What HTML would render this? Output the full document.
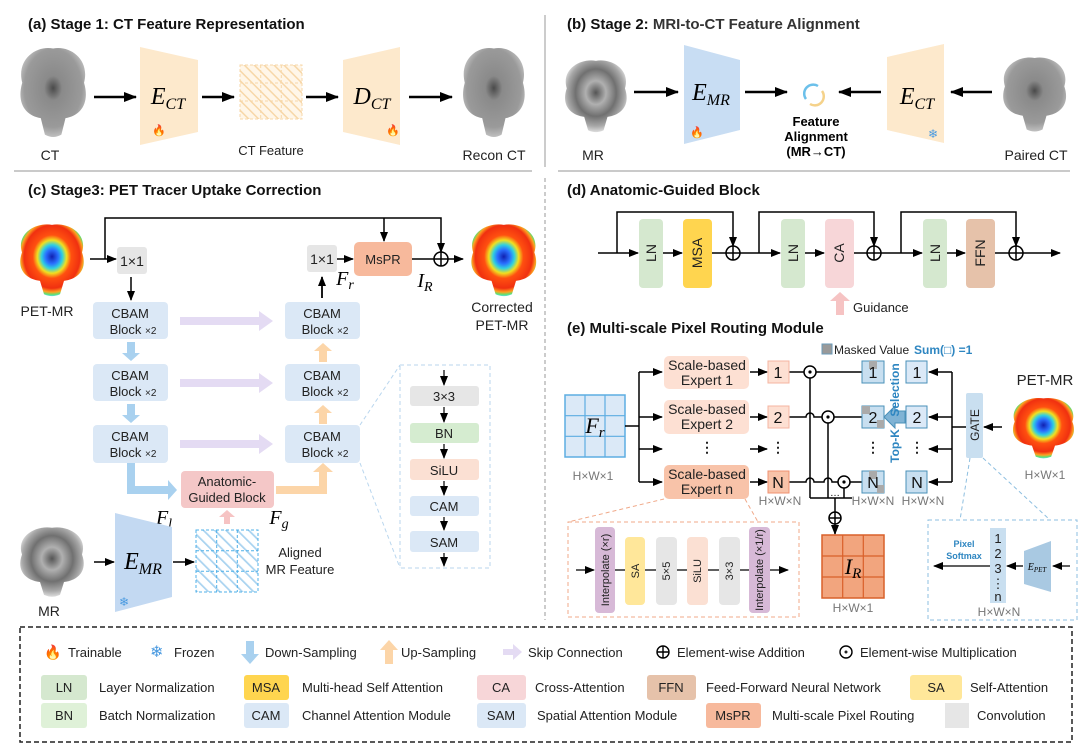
<!DOCTYPE html>
<html><head><meta charset="utf-8"><style>
html,body{margin:0;padding:0;background:#fff;}
svg{display:block;font-family:"Liberation Sans",Arial,sans-serif;}
.t{font-weight:bold;font-size:15px;fill:#111;}
.m{font-family:"Liberation Serif",serif;font-style:italic;}
.s13{font-size:13px;fill:#222;}
.s14{font-size:14px;fill:#222;}
.lg{font-size:13px;fill:#222;}
</style></head><body>
<svg width="1080" height="749" viewBox="0 0 1080 749" xmlns="http://www.w3.org/2000/svg">
<defs>
<marker id="ah" markerUnits="userSpaceOnUse" markerWidth="10" markerHeight="8" refX="9" refY="4" orient="auto"><path d="M0,0 L10,4 L0,8 Z" fill="#000"/></marker>
<marker id="ahb" markerUnits="userSpaceOnUse" markerWidth="13" markerHeight="10" refX="12" refY="5" orient="auto"><path d="M0,0 L13,5 L0,10 Z" fill="#000"/></marker>
<pattern id="hO" width="7" height="7" patternUnits="userSpaceOnUse" patternTransform="rotate(-45)"><rect width="7" height="7" fill="#fff6e8"/><line x1="0" y1="0" x2="0" y2="7" stroke="#f7d7a8" stroke-width="3"/></pattern>
<pattern id="hB" width="8" height="8" patternUnits="userSpaceOnUse" patternTransform="rotate(-45)"><rect width="8" height="8" fill="#fff"/><line x1="0" y1="0" x2="0" y2="8" stroke="#a9d3f0" stroke-width="3.5"/></pattern>
<radialGradient id="pet" cx="50%" cy="45%" r="55%">
<stop offset="0" stop-color="#1020b0"/><stop offset="0.18" stop-color="#2a70ff"/><stop offset="0.3" stop-color="#30d0e0"/><stop offset="0.42" stop-color="#f0e020"/><stop offset="0.55" stop-color="#ff5010"/><stop offset="0.8" stop-color="#f03010"/><stop offset="0.9" stop-color="#ffa020"/><stop offset="0.96" stop-color="#60e070"/><stop offset="1" stop-color="#60e0e0"/></radialGradient>
<radialGradient id="ct" cx="50%" cy="45%" r="55%"><stop offset="0" stop-color="#4a4a4a"/><stop offset="0.25" stop-color="#8a8a8a"/><stop offset="0.8" stop-color="#9a9a9a"/><stop offset="1" stop-color="#c0c0c0"/></radialGradient>
<radialGradient id="mr" cx="50%" cy="45%" r="55%"><stop offset="0" stop-color="#555"/><stop offset="0.3" stop-color="#b0b0b0"/><stop offset="0.6" stop-color="#707070"/><stop offset="0.85" stop-color="#a8a8a8"/><stop offset="1" stop-color="#ddd"/></radialGradient>
<path id="brain" d="M8,32 C2,12 22,0 38,3 C54,0 74,12 68,32 C74,50 64,60 50,62 L46,76 Q38,80 30,76 L26,62 C12,60 2,50 8,32 Z"/>
</defs>
<rect width="1080" height="749" fill="#fff"/>

<line x1="14" y1="171" x2="532" y2="171" stroke="#aaa" stroke-width="1.2"/>
<line x1="558" y1="171" x2="1070" y2="171" stroke="#aaa" stroke-width="1.2"/>
<line x1="545" y1="15" x2="545" y2="167" stroke="#aaa" stroke-width="1.2"/>
<line x1="545" y1="178" x2="545" y2="620" stroke="#aaa" stroke-width="1.2" stroke-dasharray="4,3"/>

<!-- (a) -->
<text x="28" y="29" class="t">(a) Stage 1: CT Feature Representation</text>
<use href="#brain" fill="url(#ct)" transform="translate(14,45) scale(1.03,1.18)"/>
<line x1="94" y1="97" x2="136" y2="97" stroke="#000" stroke-width="2.5" marker-end="url(#ahb)"/>
<polygon points="140,47 198,60 198,132 140,145" fill="#fde9cc"/>
<text x="168" y="104" class="m" font-size="24" text-anchor="middle">E<tspan font-size="16" dy="5">CT</tspan></text>
<text x="152" y="134" font-size="11" fill="#f06020">🔥</text>
<line x1="202" y1="97" x2="234" y2="97" stroke="#000" stroke-width="2.5" marker-end="url(#ahb)"/>
<rect x="240" y="65" width="62" height="54" fill="url(#hO)" stroke="#f7d7a8" stroke-dasharray="3,2"/>
<path d="M260.7,65V119M281.3,65V119M240,83H302M240,101H302" stroke="#f7d7a8" stroke-dasharray="3,2"/>
<line x1="306" y1="97" x2="338" y2="97" stroke="#000" stroke-width="2.5" marker-end="url(#ahb)"/>
<polygon points="343,60 400,47 400,145 343,132" fill="#fde9cc"/>
<text x="372" y="104" class="m" font-size="24" text-anchor="middle">D<tspan font-size="16" dy="5">CT</tspan></text>
<text x="386" y="134" font-size="11" fill="#f06020">🔥</text>
<line x1="409" y1="97" x2="452" y2="97" stroke="#000" stroke-width="2.5" marker-end="url(#ahb)"/>
<use href="#brain" fill="url(#ct)" transform="translate(457,45) scale(0.97,1.18)"/>
<text x="50" y="160" class="s14" text-anchor="middle">CT</text>
<text x="271" y="155" class="s13" text-anchor="middle">CT Feature</text>
<text x="494" y="160" class="s14" text-anchor="middle">Recon CT</text>

<!-- (b) -->
<text x="567" y="29" class="t">(b) Stage 2: <tspan fill="#333">MRI-to-CT Feature Alignment</tspan></text>
<use href="#brain" fill="url(#mr)" transform="translate(559,58) scale(0.97,0.95)"/>
<line x1="634" y1="92" x2="678" y2="92" stroke="#000" stroke-width="2.5" marker-end="url(#ahb)"/>
<polygon points="684,45 740,60 740,130 684,144" fill="#c8ddf3"/>
<text x="711" y="100" class="m" font-size="24" text-anchor="middle">E<tspan font-size="16" dy="5">MR</tspan></text>
<text x="690" y="136" font-size="11" fill="#f06020">🔥</text>
<line x1="745" y1="92" x2="787" y2="92" stroke="#000" stroke-width="2.5" marker-end="url(#ahb)"/>
<path d="M806,99 A9,9 0 0 1 818,86" fill="none" stroke="#6cc0ea" stroke-width="2.5"/>
<path d="M822,91 A9,9 0 0 1 810,104" fill="none" stroke="#f5d28a" stroke-width="2.5"/>
<text x="816" y="126" font-size="13" font-weight="bold" text-anchor="middle">Feature</text>
<text x="816" y="141" font-size="13" font-weight="bold" text-anchor="middle">Alignment</text>
<text x="816" y="156" font-size="13" font-weight="bold" text-anchor="middle">(MR→CT)</text>
<line x1="881" y1="92" x2="839" y2="92" stroke="#000" stroke-width="2.5" marker-end="url(#ahb)"/>
<polygon points="887,57 944,44 944,143 887,130" fill="#fde9cc"/>
<text x="917" y="104" class="m" font-size="24" text-anchor="middle">E<tspan font-size="16" dy="5">CT</tspan></text>
<text x="928" y="138" font-size="12" fill="#4a9ae0">❄</text>
<line x1="992" y1="92" x2="951" y2="92" stroke="#000" stroke-width="2.5" marker-end="url(#ahb)"/>
<use href="#brain" fill="url(#ct)" transform="translate(997,55) scale(0.99,0.98)"/>
<text x="593" y="160" class="s14" text-anchor="middle">MR</text>
<text x="1036" y="160" class="s14" text-anchor="middle">Paired CT</text>

<!-- (c) -->
<text x="28" y="195" class="t">(c) Stage3: PET Tracer Uptake Correction</text>
<use href="#brain" fill="url(#pet)" transform="translate(14,222) scale(1.0,0.95)"/>
<polyline points="105,259 105,218 441,218 441,252" fill="none" stroke="#000" stroke-width="1.5" marker-end="url(#ah)"/>
<line x1="384" y1="218" x2="384" y2="241" stroke="#000" stroke-width="1.5" marker-end="url(#ah)"/>
<line x1="90" y1="259" x2="116" y2="259" stroke="#000" stroke-width="1.5" marker-end="url(#ah)"/>
<rect x="117" y="247" width="30" height="27" rx="3" fill="#e6e6e6"/>
<text x="132" y="266" class="s14" text-anchor="middle">1×1</text>
<line x1="131" y1="277" x2="131" y2="300" stroke="#000" stroke-width="1.5" marker-end="url(#ah)"/>
<text x="47" y="316" class="s14" text-anchor="middle">PET-MR</text>
<g font-size="13" fill="#222" text-anchor="middle">
<rect x="93" y="302" width="75" height="37" rx="4" fill="#dbe8f6"/><text x="130" y="318">CBAM</text><text x="133" y="334">Block <tspan font-size="10">×2</tspan></text>
<rect x="93" y="364" width="75" height="37" rx="4" fill="#dbe8f6"/><text x="130" y="380">CBAM</text><text x="133" y="396">Block <tspan font-size="10">×2</tspan></text>
<rect x="93" y="425" width="75" height="38" rx="4" fill="#dbe8f6"/><text x="130" y="441">CBAM</text><text x="133" y="457">Block <tspan font-size="10">×2</tspan></text>
<rect x="285" y="302" width="75" height="37" rx="4" fill="#dbe8f6"/><text x="322" y="318">CBAM</text><text x="325" y="334">Block <tspan font-size="10">×2</tspan></text>
<rect x="285" y="364" width="75" height="37" rx="4" fill="#dbe8f6"/><text x="322" y="380">CBAM</text><text x="325" y="396">Block <tspan font-size="10">×2</tspan></text>
<rect x="285" y="425" width="75" height="38" rx="4" fill="#dbe8f6"/><text x="322" y="441">CBAM</text><text x="325" y="457">Block <tspan font-size="10">×2</tspan></text>
</g>
<g fill="#e4dbf3">
<polygon points="180,317 259,317 259,311 273,321 259,331 259,325 180,325"/>
<polygon points="180,379 259,379 259,373 273,383 259,393 259,387 180,387"/>
<polygon points="180,440 259,440 259,434 273,444 259,454 259,448 180,448"/>
</g>
<g fill="#a9d1ef">
<polygon points="127,342 135,342 135,353 140,353 131,361 122,353 127,353"/>
<polygon points="127,404 135,404 135,415 140,415 131,423 122,415 127,415"/>
<polygon points="127,463 135,463 135,486 168,486 168,480 177,490 168,500 168,494 127,494"/>
</g>
<g fill="#fcd5a8">
<polygon points="319,362 327,362 327,351 332,351 323,343 314,351 319,351"/>
<polygon points="319,424 327,424 327,413 332,413 323,405 314,413 319,413"/>
<polygon points="276,486 319,486 319,472 313,472 323,463 333,472 327,472 327,494 276,494"/>
</g>
<rect x="181" y="471" width="93" height="37" rx="4" fill="#f4c7c7"/>
<text x="227" y="486" class="s13" text-anchor="middle">Anatomic-</text>
<text x="227" y="502" class="s13" text-anchor="middle">Guided  Block</text>
<text x="164" y="524" class="m" font-size="20" text-anchor="middle">F<tspan font-size="14" dy="4">l</tspan></text>
<text x="279" y="524" class="m" font-size="20" text-anchor="middle">F<tspan font-size="14" dy="4">g</tspan></text>
<polygon points="224,524 230,524 230,517 235,517 227,510 219,517 224,517" fill="#f6c3c3"/>
<line x1="322" y1="298" x2="322" y2="277" stroke="#000" stroke-width="1.8" marker-end="url(#ah)"/>
<rect x="307" y="245" width="30" height="27" rx="3" fill="#e6e6e6"/>
<text x="322" y="264" class="s14" text-anchor="middle">1×1</text>
<line x1="337" y1="259" x2="353" y2="259" stroke="#000" stroke-width="1.5" marker-end="url(#ah)"/>
<rect x="354" y="242" width="58" height="34" rx="5" fill="#f7b99c"/>
<text x="383" y="264" class="s13" text-anchor="middle">MsPR</text>
<text x="345" y="285" class="m" font-size="20" text-anchor="middle">F<tspan font-size="14" dy="4">r</tspan></text>
<line x1="412" y1="259" x2="434" y2="259" stroke="#000" stroke-width="1.5"/>
<circle cx="441" cy="259" r="7" fill="#fff" stroke="#000" stroke-width="1.5"/><path d="M434,259H448M441,252V266" stroke="#000" stroke-width="1.5"/>
<line x1="448" y1="259" x2="463" y2="259" stroke="#000" stroke-width="1.5" marker-end="url(#ah)"/>
<text x="425" y="287" class="m" font-size="20" text-anchor="middle">I<tspan font-size="14" dy="4">R</tspan></text>
<use href="#brain" fill="url(#pet)" transform="translate(465,222) scale(1.02,0.95)"/>
<text x="502" y="312" class="s14" text-anchor="middle">Corrected</text>
<text x="502" y="330" class="s14" text-anchor="middle">PET-MR</text>
<rect x="400" y="365" width="90" height="203" fill="none" stroke="#b9d6ee" stroke-dasharray="4,3"/>
<line x1="360" y1="425" x2="400" y2="365" stroke="#b9d6ee" stroke-dasharray="4,3"/>
<line x1="360" y1="463" x2="400" y2="568" stroke="#b9d6ee" stroke-dasharray="4,3"/>
<g font-size="13" fill="#222" text-anchor="middle">
<rect x="410" y="386" width="69" height="20" rx="3" fill="#e6e6e6"/><text x="444" y="401">3×3</text>
<rect x="410" y="423" width="69" height="20" rx="3" fill="#d5ecd0"/><text x="444" y="438">BN</text>
<rect x="410" y="459" width="69" height="21" rx="3" fill="#fbe0d3"/><text x="444" y="475">SiLU</text>
<rect x="410" y="496" width="69" height="20" rx="3" fill="#dbe8f6"/><text x="444" y="511">CAM</text>
<rect x="410" y="531" width="69" height="21" rx="3" fill="#dbe8f6"/><text x="444" y="547">SAM</text>
</g>
<g stroke="#000" stroke-width="1.2" marker-end="url(#ah)">
<line x1="444" y1="370" x2="444" y2="385"/><line x1="444" y1="407" x2="444" y2="422"/><line x1="444" y1="444" x2="444" y2="458"/><line x1="444" y1="481" x2="444" y2="495"/><line x1="444" y1="517" x2="444" y2="530"/><line x1="444" y1="553" x2="444" y2="566"/>
</g>
<use href="#brain" fill="url(#mr)" transform="translate(14,525) scale(1.0,0.92)"/>
<text x="49" y="616" class="s14" text-anchor="middle">MR</text>
<line x1="94" y1="562" x2="114" y2="562" stroke="#000" stroke-width="1.5" marker-end="url(#ah)"/>
<polygon points="115,513 172,527 172,597 115,612" fill="#c3d9f2"/>
<text x="143" y="569" class="m" font-size="24" text-anchor="middle">E<tspan font-size="16" dy="5">MR</tspan></text>
<text x="119" y="606" font-size="12" fill="#4a9ae0">❄</text>
<line x1="173" y1="562" x2="194" y2="562" stroke="#000" stroke-width="1.5" marker-end="url(#ah)"/>
<rect x="196" y="530" width="62" height="62" fill="url(#hB)" stroke="#4fb0e8" stroke-dasharray="3,2"/>
<path d="M216.7,530V592M237.3,530V592M196,550.7H258M196,571.3H258" stroke="#4fb0e8" stroke-dasharray="3,2"/>
<text x="300" y="557" class="s13" text-anchor="middle">Aligned</text>
<text x="300" y="574" class="s13" text-anchor="middle">MR Feature</text>

<!-- (d) -->
<text x="567" y="195" class="t">(d) Anatomic-Guided Block</text>
<g stroke="#000" stroke-width="1.5" fill="none">
<line x1="598" y1="253" x2="638" y2="253" marker-end="url(#ah)"/>
<polyline points="617,253 617,212 733,212 733,246" marker-end="url(#ah)"/>
<line x1="663" y1="253" x2="682" y2="253" marker-end="url(#ah)"/>
<line x1="712" y1="253" x2="726" y2="253"/>
<line x1="740" y1="253" x2="780" y2="253" marker-end="url(#ah)"/>
<polyline points="759,253 759,212 874,212 874,246" marker-end="url(#ah)"/>
<line x1="805" y1="253" x2="824" y2="253" marker-end="url(#ah)"/>
<line x1="854" y1="253" x2="867" y2="253"/>
<line x1="881" y1="253" x2="922" y2="253" marker-end="url(#ah)"/>
<polyline points="901,253 901,212 1016,212 1016,246" marker-end="url(#ah)"/>
<line x1="947" y1="253" x2="965" y2="253" marker-end="url(#ah)"/>
<line x1="995" y1="253" x2="1009" y2="253"/>
<line x1="1023" y1="253" x2="1060" y2="253" marker-end="url(#ah)"/>
</g>
<g font-size="14" fill="#222">
<rect x="639" y="219" width="24" height="69" rx="4" fill="#d5e8cf"/><text transform="translate(656,253) rotate(-90)" text-anchor="middle">LN</text>
<rect x="683" y="219" width="29" height="69" rx="4" fill="#ffd54f"/><text transform="translate(702,253) rotate(-90)" text-anchor="middle">MSA</text>
<rect x="781" y="219" width="24" height="69" rx="4" fill="#d5e8cf"/><text transform="translate(798,253) rotate(-90)" text-anchor="middle">LN</text>
<rect x="825" y="219" width="29" height="69" rx="4" fill="#f7d6d8"/><text transform="translate(844,253) rotate(-90)" text-anchor="middle">CA</text>
<rect x="923" y="219" width="24" height="69" rx="4" fill="#d5e8cf"/><text transform="translate(940,253) rotate(-90)" text-anchor="middle">LN</text>
<rect x="966" y="219" width="29" height="69" rx="4" fill="#e6c2aa"/><text transform="translate(985,253) rotate(-90)" text-anchor="middle">FFN</text>
</g>
<g stroke="#000" stroke-width="1.5" fill="#fff">
<circle cx="733" cy="253" r="7"/><path d="M726,253H740M733,246V260"/>
<circle cx="874" cy="253" r="7"/><path d="M867,253H881M874,246V260"/>
<circle cx="1016" cy="253" r="7"/><path d="M1009,253H1023M1016,246V260"/>
</g>
<polygon points="836,315 844,315 844,301 850,301 840,292 830,301 836,301" fill="#f6c3c3"/>
<text x="853" y="312" class="s13">Guidance</text>

<!-- (e) -->
<text x="567" y="333" class="t">(e) Multi-scale Pixel Routing Module</text>
<rect x="822" y="344" width="10" height="10" fill="#999" stroke="#6a9ab8"/>
<text x="834" y="354" font-size="12" fill="#222">Masked Value</text>
<text x="914" y="354" font-size="12" font-weight="bold" fill="#2e86c1">Sum(□) =1</text>
<rect x="565" y="395" width="60" height="62" fill="#dbe9f7" stroke="#5dade2" stroke-width="1.5"/>
<path d="M585,395V457M605,395V457M565,415.7H625M565,436.3H625" stroke="#5dade2" stroke-width="1.2"/>
<text x="595" y="433" class="m" font-size="22" text-anchor="middle">F<tspan font-size="15" dy="4">r</tspan></text>
<text x="593" y="480" font-size="12" fill="#777" text-anchor="middle">H×W×1</text>
<g stroke="#000" stroke-width="1.5" fill="none">
<line x1="625" y1="426" x2="639" y2="426"/>
<line x1="639" y1="372" x2="639" y2="482"/>
<line x1="639" y1="372" x2="662" y2="372" marker-end="url(#ah)"/>
<line x1="639" y1="417" x2="662" y2="417" marker-end="url(#ah)"/>
<line x1="639" y1="449" x2="662" y2="449" marker-end="url(#ah)"/>
<line x1="639" y1="482" x2="662" y2="482" marker-end="url(#ah)"/>
<line x1="750" y1="372" x2="767" y2="372" marker-end="url(#ah)"/>
<line x1="750" y1="417" x2="767" y2="417" marker-end="url(#ah)"/>
<line x1="750" y1="449" x2="767" y2="449" marker-end="url(#ah)"/>
<line x1="750" y1="482" x2="767" y2="482" marker-end="url(#ah)"/>
<line x1="789" y1="372" x2="862" y2="372"/>
<path d="M789,417 H806 a4,4 0 0 1 8,0 H862"/>
<path d="M789,482 H806 a4,4 0 0 1 8,0 H824 a4,4 0 0 1 8,0 H862"/>
<line x1="810" y1="378" x2="810" y2="498"/>
<line x1="828" y1="423" x2="828" y2="498"/>
<line x1="844" y1="488" x2="844" y2="498"/>
<line x1="810" y1="498" x2="852" y2="498"/>
<line x1="835" y1="498" x2="835" y2="534" marker-end="url(#ah)"/>
<line x1="952" y1="372" x2="952" y2="482"/>
<line x1="966" y1="427" x2="952" y2="427"/>
<line x1="952" y1="372" x2="929" y2="372" marker-end="url(#ah)"/>
<line x1="952" y1="417" x2="929" y2="417" marker-end="url(#ah)"/>
<line x1="952" y1="449" x2="929" y2="449" marker-end="url(#ah)"/>
<line x1="952" y1="482" x2="929" y2="482" marker-end="url(#ah)"/>
<line x1="1002" y1="427" x2="984" y2="427" marker-end="url(#ah)"/>
</g>
<g font-size="14" fill="#222" text-anchor="middle">
<rect x="664" y="356" width="85" height="33" rx="5" fill="#fde0d3"/><text x="707" y="370">Scale-based</text><text x="707" y="385">Expert 1</text>
<rect x="664" y="400" width="85" height="34" rx="5" fill="#fde0d3"/><text x="707" y="414">Scale-based</text><text x="707" y="429">Expert 2</text>
<rect x="664" y="465" width="85" height="34" rx="5" fill="#f8c3a9"/><text x="707" y="479">Scale-based</text><text x="707" y="494">Expert n</text>
<text x="707" y="452" font-weight="bold">⋮</text><text x="778" y="452" font-weight="bold">⋮</text>
<text x="873" y="452" font-weight="bold">⋮</text><text x="917" y="452" font-weight="bold">⋮</text>
</g>
<g font-size="16" fill="#111" text-anchor="middle">
<rect x="768" y="361" width="21" height="22" fill="#fde0d3" stroke="#f5b5a0"/><text x="778" y="378">1</text>
<rect x="768" y="406" width="21" height="22" fill="#fde0d3" stroke="#f5b5a0"/><text x="778" y="423">2</text>
<rect x="768" y="471" width="21" height="22" fill="#f8c3a9" stroke="#f09070"/><text x="778" y="488">N</text>
<rect x="862" y="361" width="22" height="22" fill="#c8dff0" stroke="#4a90b8"/><rect x="869" y="361" width="8" height="8" fill="#aaa"/><text x="873" y="378">1</text>
<rect x="862" y="406" width="22" height="22" fill="#c8dff0" stroke="#4a90b8"/><rect x="862" y="406" width="8" height="8" fill="#aaa"/><rect x="877" y="420" width="7" height="8" fill="#aaa"/><text x="873" y="423">2</text>
<rect x="862" y="471" width="22" height="22" fill="#c8dff0" stroke="#4a90b8"/><rect x="869" y="471" width="8" height="8" fill="#aaa"/><rect x="877" y="485" width="7" height="8" fill="#aaa"/><text x="873" y="488">N</text>
<rect x="906" y="361" width="21" height="22" fill="#dbe9f7" stroke="#4a90b8"/><text x="917" y="378">1</text>
<rect x="906" y="406" width="21" height="22" fill="#dbe9f7" stroke="#4a90b8"/><text x="917" y="423">2</text>
<rect x="906" y="471" width="21" height="22" fill="#c8dff0" stroke="#4a90b8"/><text x="917" y="488">N</text>
</g>
<g fill="#fff" stroke="#000" stroke-width="1.5">
<circle cx="810" cy="372" r="6"/><circle cx="828" cy="417" r="6"/><circle cx="844" cy="482" r="6"/>
<circle cx="835" cy="518" r="6"/><path d="M829,518H841M835,512V524"/>
</g>
<g fill="#000"><circle cx="810" cy="372" r="1.6"/><circle cx="828" cy="417" r="1.6"/><circle cx="844" cy="482" r="1.6"/></g>
<text x="835" y="496" font-size="10" text-anchor="middle">…</text>
<polygon points="905,411 895,411 895,406 884,417 895,428 895,423 905,423" fill="#7fb3d5" stroke="#4a90b8"/>
<text transform="translate(899,390) rotate(-90)" font-size="12" font-weight="bold" fill="#2e86c1" text-anchor="middle">Selection</text>
<text transform="translate(899,446) rotate(-90)" font-size="12" font-weight="bold" fill="#2e86c1" text-anchor="middle">Top-K</text>
<g font-size="12" fill="#777" text-anchor="middle"><text x="780" y="505">H×W×N</text><text x="873" y="505">H×W×N</text><text x="923" y="505">H×W×N</text></g>
<rect x="822" y="535" width="62" height="63" fill="#f2a57e" stroke="#d9602a" stroke-width="1.5"/>
<path d="M842.7,535V598M863.3,535V598M822,556H884M822,577H884" stroke="#d9602a" stroke-width="1.2"/>
<text x="853" y="574" class="m" font-size="22" text-anchor="middle">I<tspan font-size="15" dy="4">R</tspan></text>
<text x="853" y="612" font-size="12" fill="#777" text-anchor="middle">H×W×1</text>
<rect x="966" y="393" width="17" height="65" rx="2" fill="#c9dff0"/>
<text transform="translate(979,425) rotate(-90)" font-size="12" fill="#222" text-anchor="middle">GATE</text>
<text x="1045" y="385" font-size="15" fill="#222" text-anchor="middle">PET-MR</text>
<use href="#brain" fill="url(#pet)" transform="translate(1007,396) scale(0.96,0.8)"/>
<text x="1045" y="479" font-size="12" fill="#777" text-anchor="middle">H×W×1</text>
<rect x="928" y="520" width="149" height="100" fill="none" stroke="#8ebfe0" stroke-dasharray="4,3"/>
<line x1="970" y1="458" x2="960" y2="520" stroke="#8ebfe0" stroke-dasharray="4,3"/>
<line x1="983" y1="458" x2="1050" y2="520" stroke="#8ebfe0" stroke-dasharray="4,3"/>
<rect x="990" y="528" width="16" height="75" fill="#c9dff0"/>
<g font-size="13" fill="#222" text-anchor="middle"><text x="998" y="543">1</text><text x="998" y="558">2</text><text x="998" y="573">3</text><text x="998" y="588">⋮</text><text x="998" y="601">n</text></g>
<polygon points="1024,551 1051,541 1051,592 1024,584" fill="#a9c9e2"/>
<text x="1037" y="570" class="m" font-size="10" text-anchor="middle">E<tspan font-size="7" dy="2">PET</tspan></text>
<line x1="1070" y1="566" x2="1053" y2="566" stroke="#000" stroke-width="1.3" marker-end="url(#ah)"/>
<line x1="1023" y1="566" x2="1007" y2="566" stroke="#000" stroke-width="1.3" marker-end="url(#ah)"/>
<line x1="990" y1="566" x2="934" y2="566" stroke="#000" stroke-width="1.3" marker-end="url(#ah)"/>
<text x="964" y="547" font-size="9" font-weight="bold" fill="#2e86c1" text-anchor="middle">Pixel</text>
<text x="964" y="559" font-size="9" font-weight="bold" fill="#2e86c1" text-anchor="middle">Softmax</text>
<text x="999" y="616" font-size="12" fill="#777" text-anchor="middle">H×W×N</text>
<rect x="568" y="522" width="231" height="95" fill="none" stroke="#f0a888" stroke-dasharray="4,3"/>
<line x1="664" y1="499" x2="568" y2="522" stroke="#f0a888" stroke-dasharray="4,3"/>
<line x1="745" y1="499" x2="758" y2="522" stroke="#f0a888" stroke-dasharray="4,3"/>
<line x1="576" y1="570" x2="594" y2="570" stroke="#000" stroke-width="1.3" marker-end="url(#ah)"/>
<line x1="615" y1="570" x2="749" y2="570" stroke="#000" stroke-width="1.3"/>
<line x1="770" y1="570" x2="788" y2="570" stroke="#000" stroke-width="1.3" marker-end="url(#ah)"/>
<g font-size="11" fill="#222" text-anchor="middle">
<rect x="595" y="527" width="20" height="86" rx="4" fill="#d7b9d7"/><text transform="translate(609,570) rotate(-90)">Interpolate (×r)</text>
<rect x="625" y="537" width="20" height="68" rx="4" fill="#ffe79a"/><text transform="translate(639,571) rotate(-90)">SA</text>
<rect x="656" y="537" width="21" height="68" rx="4" fill="#e6e6e6"/><text transform="translate(670,571) rotate(-90)">5×5</text>
<rect x="687" y="537" width="21" height="68" rx="4" fill="#fbe0d3"/><text transform="translate(701,571) rotate(-90)">SiLU</text>
<rect x="719" y="537" width="21" height="68" rx="4" fill="#e6e6e6"/><text transform="translate(733,571) rotate(-90)">3×3</text>
<rect x="749" y="527" width="21" height="86" rx="4" fill="#d7b9d7"/><text transform="translate(763,570) rotate(-90)">Interpolate (×1/r)</text>
</g>

<!-- legend -->
<rect x="20" y="627" width="1052" height="115" fill="none" stroke="#222" stroke-width="1.5" stroke-dasharray="5,3"/>
<g class="lg">
<text x="44" y="657" font-size="14" fill="#f06020">🔥</text><text x="68" y="657" class="lg">Trainable</text>
<text x="150" y="657" font-size="16" fill="#4a9ae0">❄</text><text x="174" y="657" class="lg">Frozen</text>
<polygon points="246,641 254,641 254,654 259,654 250,664 241,654 246,654" fill="#a9d1ef"/><text x="265" y="657" class="lg">Down-Sampling</text>
<polygon points="385,664 393,664 393,650 398,650 389,640 380,650 385,650" fill="#fcd5a8"/><text x="401" y="657" class="lg">Up-Sampling</text>
<polygon points="503,649 513,649 513,644 522,652 513,660 513,655 503,655" fill="#e4dbf3"/><text x="528" y="657" class="lg">Skip Connection</text>
<circle cx="663" cy="652" r="6" fill="none" stroke="#000" stroke-width="1.4"/><path d="M657,652H669M663,646V658" stroke="#000" stroke-width="1.4"/><text x="677" y="657" class="lg">Element-wise Addition</text>
<circle cx="846" cy="652" r="6" fill="none" stroke="#000" stroke-width="1.4"/><circle cx="846" cy="652" r="1.5"/><text x="860" y="657" class="lg">Element-wise Multiplication</text>
</g>
<g font-size="13" fill="#222">
<rect x="41" y="675" width="46" height="25" rx="3" fill="#d5e8cf"/><text x="64" y="692" text-anchor="middle">LN</text><text x="99" y="692">Layer Normalization</text>
<rect x="244" y="675" width="45" height="25" rx="3" fill="#ffd54f"/><text x="266" y="692" text-anchor="middle">MSA</text><text x="302" y="692">Multi-head Self Attention</text>
<rect x="477" y="675" width="49" height="25" rx="3" fill="#f7d6d8"/><text x="501" y="692" text-anchor="middle">CA</text><text x="535" y="692">Cross-Attention</text>
<rect x="647" y="675" width="49" height="25" rx="3" fill="#e6c2aa"/><text x="671" y="692" text-anchor="middle">FFN</text><text x="706" y="692">Feed-Forward Neural Network</text>
<rect x="910" y="675" width="52" height="25" rx="3" fill="#ffe79a"/><text x="936" y="692" text-anchor="middle">SA</text><text x="970" y="692">Self-Attention</text>
<rect x="41" y="703" width="46" height="25" rx="3" fill="#dff1d8"/><text x="64" y="720" text-anchor="middle">BN</text><text x="99" y="720">Batch Normalization</text>
<rect x="244" y="703" width="45" height="25" rx="3" fill="#dbe8f6"/><text x="266" y="720" text-anchor="middle">CAM</text><text x="302" y="720">Channel Attention Module</text>
<rect x="477" y="703" width="49" height="25" rx="3" fill="#dbe8f6"/><text x="501" y="720" text-anchor="middle">SAM</text><text x="537" y="720">Spatial Attention Module</text>
<rect x="706" y="703" width="55" height="25" rx="3" fill="#f7b99c"/><text x="733" y="720" text-anchor="middle">MsPR</text><text x="772" y="720">Multi-scale Pixel Routing</text>
<rect x="945" y="703" width="24" height="25" fill="#e6e6e6"/><text x="977" y="720">Convolution</text>
</g>
</svg>
</body></html>
